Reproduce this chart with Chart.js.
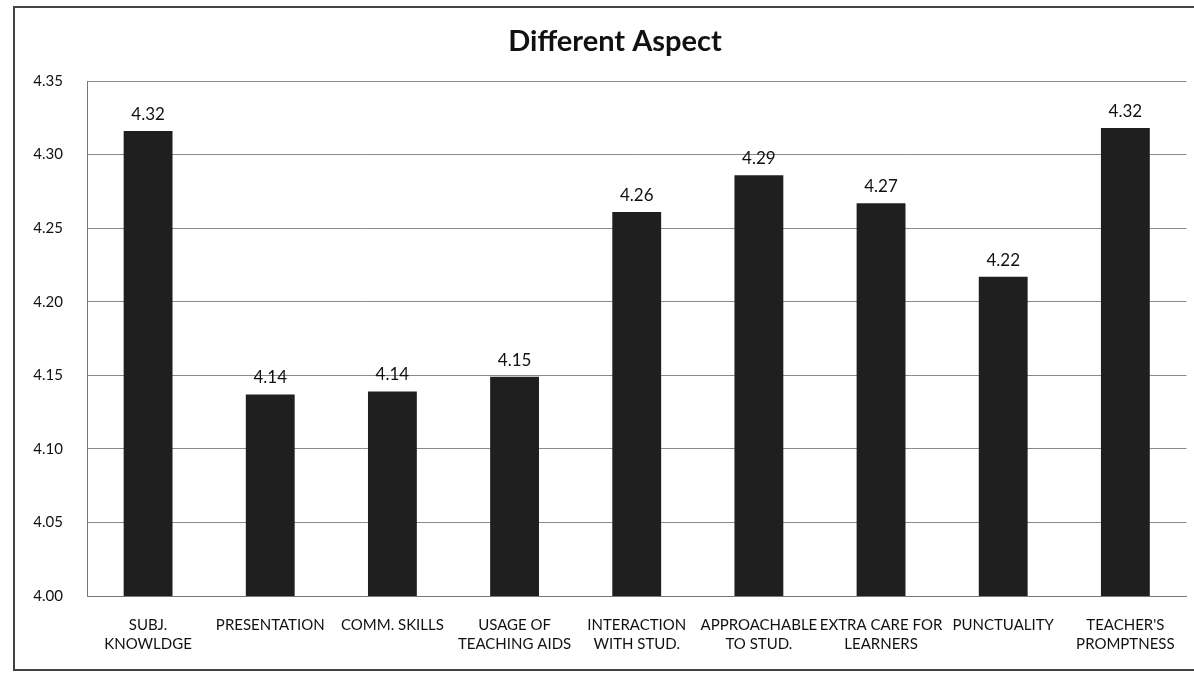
<!DOCTYPE html>
<html>
<head>
<meta charset="utf-8">
<script src="https://cdn.jsdelivr.net/npm/chart.js@4/dist/chart.umd.min.js"></script>
<style>
html,body{margin:0;padding:0;background:#fff;overflow:hidden;}
#wrap{position:absolute;left:0;top:0;width:1194px;height:678px;}
#frame{position:absolute;left:13px;top:6px;width:1190px;height:665px;border:2px solid #444;box-sizing:border-box;}
canvas{position:absolute;left:0;top:0;}
</style>
</head>
<body>
<div id="wrap">
<div id="frame"></div>
<canvas id="c" width="1194" height="678"></canvas>
</div>
<script>
const categories = [
  ["SUBJ.", "KNOWLDGE"],
  "PRESENTATION",
  "COMM. SKILLS",
  ["USAGE OF", "TEACHING AIDS"],
  ["INTERACTION", "WITH STUD."],
  ["APPROACHABLE", "TO STUD."],
  ["EXTRA CARE FOR", "LEARNERS"],
  "PUNCTUALITY",
  ["TEACHER'S", "PROMPTNESS"]
];
const values = [4.316, 4.137, 4.139, 4.149, 4.261, 4.286, 4.267, 4.217, 4.318];
const valueLabels = ["4.32", "4.14", "4.14", "4.15", "4.26", "4.29", "4.27", "4.22", "4.32"];
const yMin = 4.00, yMax = 4.35, yStep = 0.05;
const titleText = "Different Aspect";

const FONT = "Lato, 'Open Sans', sans-serif";

const valueLabelPlugin = {
  id: 'valueLabels',
  afterDatasetsDraw(chart) {
    const ctx = chart.ctx;
    const meta = chart.getDatasetMeta(0);
    ctx.save();
    ctx.font = "17px " + FONT;
    ctx.fillStyle = "#111";
    ctx.textAlign = "center";
    ctx.textBaseline = "alphabetic";
    meta.data.forEach((bar, i) => {
      ctx.fillText(valueLabels[i], bar.x, bar.y - 11);
    });
    ctx.restore();
  }
};

const titlePlugin = {
  id: 'offsetTitle',
  afterDraw(chart) {
    const ctx = chart.ctx;
    ctx.save();
    ctx.font = "bold 29px " + FONT;
    ctx.fillStyle = "#111";
    ctx.textAlign = "center";
    ctx.textBaseline = "middle";
    ctx.fillText(titleText, 615, 42);
    ctx.restore();
  }
};

new Chart(document.getElementById('c'), {
  type: 'bar',
  data: {
    labels: categories,
    datasets: [{
      data: values,
      backgroundColor: '#1f1f1f',
      borderWidth: 0,
      barPercentage: 0.4,
      categoryPercentage: 1.0
    }]
  },
  options: {
    responsive: false,
    animation: false,
    events: [],
    layout: { padding: { left: 0, right: 7, top: 81, bottom: 0 } },
    plugins: {
      legend: { display: false },
      tooltip: { enabled: false },
      title: { display: false }
    },
    scales: {
      x: {
        grid: { display: false, drawTicks: false },
        border: { display: true, color: '#777', width: 1 },
        ticks: {
          color: '#111',
          font: { family: FONT, size: 15, lineHeight: 1.3 },
          padding: 19,
          maxRotation: 0,
          autoSkip: false
        },
        afterFit(scale) { scale.height = 82; }
      },
      y: {
        min: yMin,
        max: yMax,
        grid: { color: '#8a8a8a', lineWidth: 1, drawTicks: false },
        border: { display: true, color: '#777', width: 1 },
        ticks: {
          stepSize: yStep,
          color: '#111',
          font: { family: FONT, size: 15 },
          padding: 24,
          callback: (v) => Number(v).toFixed(2)
        },
        afterFit(scale) { scale.width = 87; }
      }
    }
  },
  plugins: [valueLabelPlugin, titlePlugin]
});
</script>
</body>
</html>
